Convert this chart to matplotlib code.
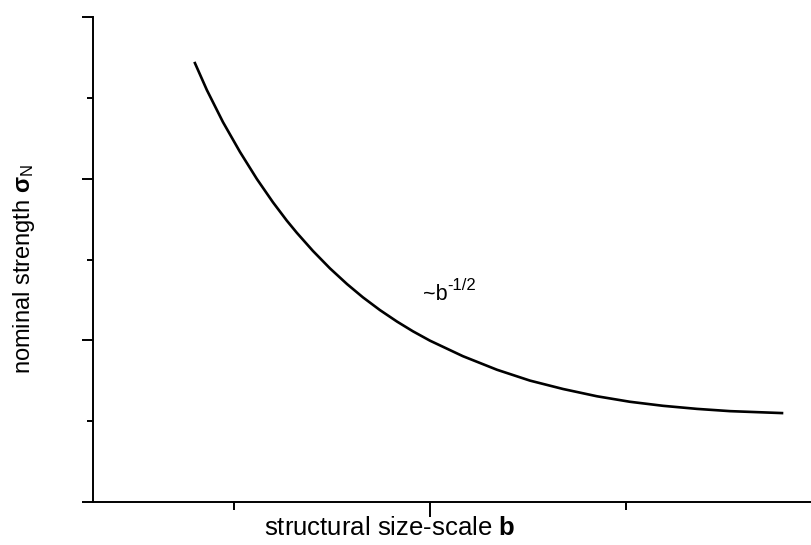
import numpy as np
import matplotlib
matplotlib.use("Agg")
import matplotlib.pyplot as plt
from matplotlib.ticker import MultipleLocator

plt.rcParams['font.family'] = ['Liberation Sans', 'DejaVu Sans']
plt.rcParams['mathtext.fontset'] = 'custom'
plt.rcParams['mathtext.rm'] = 'Liberation Sans'
plt.rcParams['mathtext.it'] = 'Liberation Sans:italic'
plt.rcParams['mathtext.bf'] = 'Liberation Sans:bold'

# Curve (size b, nominal strength)
size_b = [0.801, 0.862, 0.944, 1.031, 1.117, 1.199, 1.270, 1.321, 1.403,
          1.490, 1.577, 1.658, 1.745, 1.832, 1.913, 2.000, 2.168, 2.342,
          2.510, 2.679, 2.852, 3.020, 3.189, 3.362, 3.531, 3.796]
strength = [2.715, 2.548, 2.350, 2.165, 1.998, 1.854, 1.740, 1.665, 1.553,
            1.445, 1.348, 1.266, 1.187, 1.116, 1.056, 0.998, 0.902, 0.818,
            0.751, 0.699, 0.654, 0.620, 0.595, 0.576, 0.562, 0.550]

fig = plt.figure(figsize=(8.11, 5.45), dpi=100)
ax = fig.add_axes([93 / 811, 1 - 502 / 545, 1 - 93 / 811, (502 - 17) / 545])

ax.plot(size_b, strength, color='black', lw=1.9, solid_joinstyle='round')

ax.set_xlim(0.281, 3.944)
ax.set_ylim(0, 3)

# axes like the original
ax.spines['top'].set_visible(False)
ax.spines['right'].set_visible(False)
for s in ('left', 'bottom'):
    ax.spines[s].set_linewidth(1.4)

ax.xaxis.set_major_locator(MultipleLocator(2))
ax.xaxis.set_minor_locator(MultipleLocator(1))
ax.yaxis.set_major_locator(MultipleLocator(1))
ax.yaxis.set_minor_locator(MultipleLocator(0.5))
ax.tick_params(axis='x', which='major', length=10.5, width=1.4)
ax.tick_params(axis='x', which='minor', length=6, width=1.4)
ax.tick_params(axis='y', which='major', length=8, width=1.4)
ax.tick_params(axis='y', which='minor', length=4.5, width=1.4)
ax.tick_params(which='both', labelbottom=False, labelleft=False)

fig.text(390 / 811, 1 - 528 / 545, 'structural size-scale $\\mathbf{b}$',
         fontsize=18.5, ha='center', va='center')
fig.text(24 / 811, 1 - 269 / 545, 'nominal strength $\\mathbf{σ}_{\\mathrm{N}}$',
         fontsize=17, ha='center', va='center', rotation=90)

t = ax.text(1.964, 1.25, '~b', fontsize=15.5, ha='left', va='baseline')
ax.annotate('-1/2', xy=(1.0, 0.72), xycoords=t, fontsize=12,
            ha='left', va='baseline')

fig.savefig('out.png', dpi=100)
